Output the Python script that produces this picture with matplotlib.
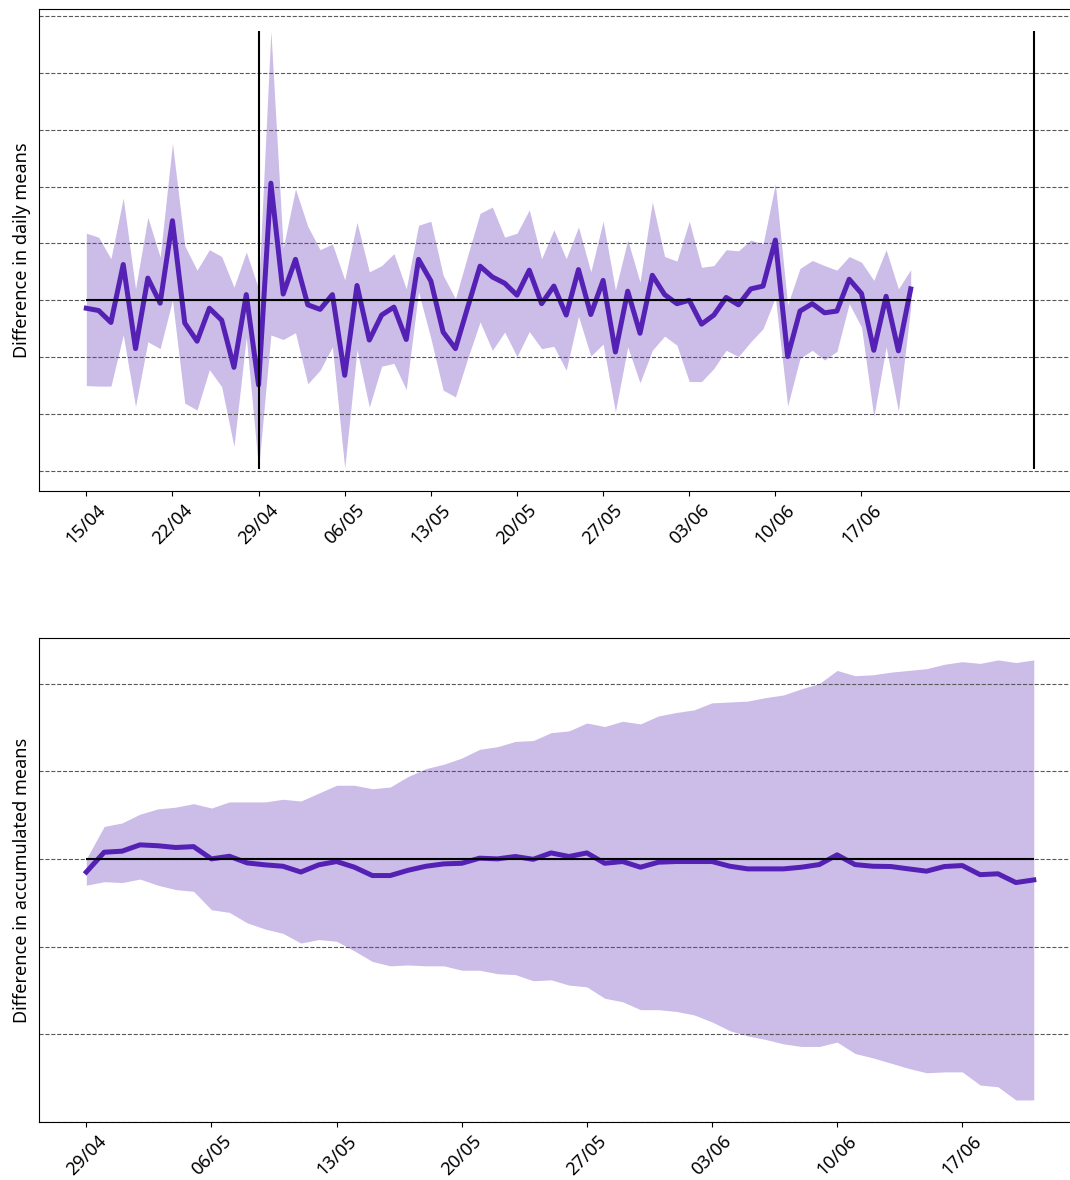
import datetime as dt

import matplotlib
matplotlib.use("Agg")
import matplotlib.pyplot as plt
import matplotlib.dates as mdates
import numpy as np
from matplotlib.ticker import MultipleLocator

plt.rcParams["font.family"] = ["Noto Sans", "DejaVu Sans"]

# daily difference between groups, with its confidence band
daily_start = dt.date(2020, 4, 15)
daily_mean = [
    -0.14, -0.18, -0.39, 0.63, -0.85, 0.39, -0.05, 1.40, -0.40, -0.72,
    -0.14, -0.35, -1.18, 0.10, -1.49, 2.06, 0.11, 0.72, -0.08, -0.16,
    0.10, -1.32, 0.26, -0.70, -0.26, -0.12, -0.69, 0.72, 0.34, -0.56,
    -0.85, -0.12, 0.60, 0.41, 0.30, 0.09, 0.53, -0.06, 0.25, -0.26,
    0.54, -0.25, 0.35, -0.91, 0.16, -0.58, 0.44, 0.10, -0.06, 0.00,
    -0.42, -0.26, 0.05, -0.08, 0.20, 0.25, 1.06, -0.99, -0.19, -0.06,
    -0.22, -0.19, 0.37, 0.12, -0.88, 0.07, -0.89, 0.20,
]
daily_upper = [
    1.18, 1.11, 0.73, 1.80, 0.20, 1.46, 0.76, 2.76, 0.96, 0.53,
    0.89, 0.77, 0.23, 0.85, 0.20, 4.74, 0.92, 1.96, 1.30, 0.89,
    0.99, 0.36, 1.37, 0.50, 0.61, 0.82, 0.20, 1.32, 1.39, 0.44,
    0.03, 0.79, 1.53, 1.64, 1.11, 1.18, 1.59, 0.73, 1.24, 0.73,
    1.29, 0.50, 1.39, 0.18, 1.06, 0.32, 1.73, 0.77, 0.69, 1.39,
    0.58, 0.61, 0.89, 0.87, 1.06, 0.99, 2.05, -0.08, 0.56, 0.70,
    0.61, 0.53, 0.77, 0.67, 0.35, 0.89, 0.20, 0.54,
]
daily_lower = [
    -1.50, -1.51, -1.51, -0.61, -1.87, -0.73, -0.85, 0.00, -1.81, -1.93,
    -1.22, -1.52, -2.57, -0.65, -2.97, -0.61, -0.69, -0.57, -1.47, -1.23,
    -0.82, -2.95, -0.87, -1.88, -1.16, -1.11, -1.57, 0.15, -0.67, -1.58,
    -1.70, -1.02, -0.38, -0.88, -0.56, -0.99, -0.55, -0.85, -0.81, -1.23,
    -0.28, -0.98, -0.77, -1.96, -0.82, -1.45, -0.88, -0.63, -0.79, -1.43,
    -1.43, -1.20, -0.88, -0.99, -0.73, -0.50, 0.05, -1.86, -1.02, -0.88,
    -1.05, -0.90, -0.06, -0.47, -2.05, -0.82, -1.95, -0.12,
]
markers = [dt.date(2020, 4, 29), dt.date(2020, 7, 1)]

# accumulated difference since the intervention date
accum_start = dt.date(2020, 4, 29)
accum_mean = [
    -0.15, 0.076, 0.088, 0.16, 0.15, 0.13, 0.14, 0.0, 0.03, -0.046,
    -0.068, -0.084, -0.15, -0.068, -0.03, -0.095, -0.19, -0.19, -0.13, -0.084,
    -0.057, -0.05, 0.008, 0.0, 0.027, -0.005, 0.068, 0.027, 0.068, -0.05,
    -0.03, -0.095, -0.038, -0.03, -0.03, -0.03, -0.084, -0.114, -0.114, -0.114,
    -0.095, -0.065, 0.046, -0.065, -0.084, -0.087, -0.114, -0.14, -0.087, -0.076,
    -0.18, -0.17, -0.27, -0.24,
]
accum_upper = [
    0.0, 0.37, 0.41, 0.51, 0.57, 0.59, 0.63, 0.58, 0.65, 0.65,
    0.65, 0.68, 0.66, 0.75, 0.84, 0.84, 0.80, 0.82, 0.94, 1.03,
    1.08, 1.15, 1.25, 1.28, 1.34, 1.35, 1.44, 1.46, 1.55, 1.51,
    1.57, 1.54, 1.63, 1.67, 1.70, 1.78, 1.79, 1.80, 1.84, 1.87,
    1.94, 2.00, 2.15, 2.09, 2.10, 2.13, 2.15, 2.17, 2.22, 2.25,
    2.23, 2.27, 2.24, 2.27,
]
accum_lower = [
    -0.30, -0.26, -0.27, -0.23, -0.30, -0.35, -0.37, -0.58, -0.61, -0.73,
    -0.80, -0.85, -0.96, -0.92, -0.94, -1.05, -1.17, -1.22, -1.21, -1.22,
    -1.22, -1.27, -1.27, -1.31, -1.32, -1.39, -1.38, -1.44, -1.46, -1.59,
    -1.63, -1.72, -1.72, -1.74, -1.78, -1.86, -1.96, -2.02, -2.06, -2.11,
    -2.14, -2.14, -2.09, -2.22, -2.27, -2.33, -2.39, -2.44, -2.43, -2.43,
    -2.58, -2.60, -2.75, -2.75,
]

LINE = "#5521b5"
FS = 13


def day_range(start, n):
    return [start + dt.timedelta(days=i) for i in range(n)]


def draw_panel(ax, dates, mean, lower, upper, ylabel):
    ax.fill_between(dates, lower, upper, color=LINE, alpha=0.3, linewidth=0)
    ax.plot(dates, mean, color=LINE, linewidth=3.6)
    ax.hlines(0, dates[0], dates[-1], color="black", linewidth=1.5)
    ax.yaxis.set_major_locator(MultipleLocator(1))
    ax.grid(axis="y", linestyle="--", color="0.35", linewidth=0.8)
    ax.tick_params(axis="y", left=False, labelleft=False)
    ax.set_xticks(dates[::7])
    ax.xaxis.set_major_formatter(mdates.DateFormatter("%d/%m"))
    plt.setp(ax.get_xticklabels(), rotation=45, fontsize=FS)
    ax.set_ylabel(ylabel, fontsize=FS, labelpad=6)


fig = plt.figure(figsize=(10.7, 11.8), dpi=100)
ax1 = fig.add_axes([0.0364, 0.5839, 0.974, 0.4085])
ax2 = fig.add_axes([0.0364, 0.0492, 0.974, 0.4102])

d_dates = day_range(daily_start, len(daily_mean))
draw_panel(ax1, d_dates, daily_mean, daily_lower, daily_upper,
           "Difference in daily means")
ax1.vlines(markers, min(daily_lower), max(daily_upper), color="black", linewidth=1.5)

a_dates = day_range(accum_start, len(accum_mean))
draw_panel(ax2, a_dates, accum_mean, accum_lower, accum_upper,
           "Difference in accumulated means")

fig.savefig("out.png", dpi=100)
